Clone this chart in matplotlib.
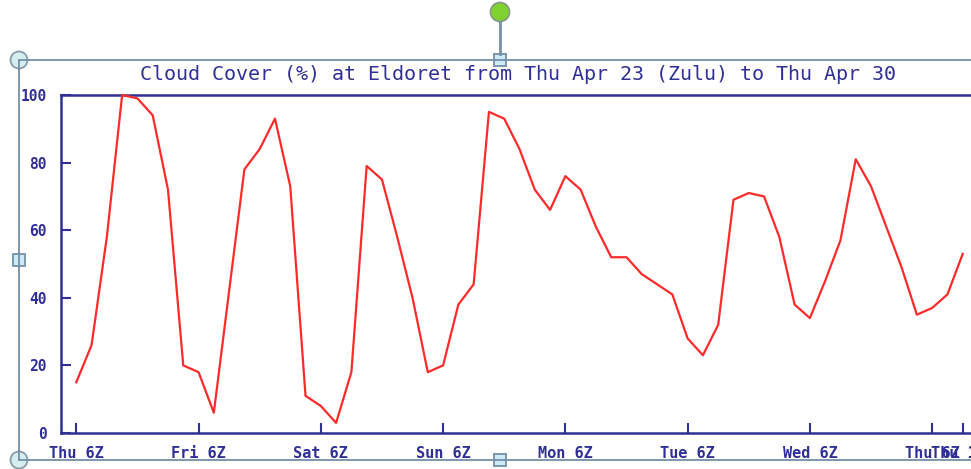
import numpy as np
import matplotlib.pyplot as plt
from matplotlib.patches import Circle, Rectangle

# cloud cover every 3 hours, starting Thu 6Z
hours = np.arange(0, 175, 3)
cover = [15, 26, 58, 100, 99, 94, 72, 20, 18, 6,
         42, 78, 84, 93, 73, 11, 8, 3, 18, 79,
         75, 58, 40, 18, 20, 38, 44, 95, 93, 84,
         72, 66, 76, 72, 61, 52, 52, 47, 44, 41,
         28, 23, 32, 69, 71, 70, 58, 38, 34, 45,
         57, 81, 73, 61, 49, 35, 37, 41, 53]

tick_hours = [0, 24, 48, 72, 96, 120, 144, 168, 174]
tick_labels = ['Thu 6Z', 'Fri 6Z', 'Sat 6Z', 'Sun 6Z', 'Mon 6Z',
               'Tue 6Z', 'Wed 6Z', 'Thu 6Z', 'Thu 12Z']
y_ticks = [0, 20, 40, 60, 80, 100]

title = 'Cloud Cover (%) at Eldoret from Thu Apr 23 (Zulu) to Thu Apr 30'

W, H = 971, 469
navy = '#2f2f95'
frame = '#7390a8'

fig = plt.figure(figsize=(W / 100, H / 100), dpi=100)
fig.patch.set_facecolor('white')

# plot area in pixels: left 61, right ~978, top 95, bottom 433
ax = fig.add_axes([61 / W, (H - 433) / H, (978 - 61) / W, (433 - 95) / H])
ax.plot(hours, cover, color='#ff2a2a', lw=1.6, clip_on=False, zorder=3)
ax.set_xlim(-3, 177)
ax.set_ylim(0, 100)

for side in ['left', 'top', 'bottom']:
    ax.spines[side].set_color(navy)
    ax.spines[side].set_linewidth(1.8)
ax.spines['right'].set_visible(False)

mono = 'DejaVu Sans Mono'
ax.set_yticks(y_ticks)
ax.set_yticklabels([str(v) for v in y_ticks], family=mono, weight='bold',
                   fontsize=10.5, color=navy)
ax.set_xticks(tick_hours)
ax.set_xticklabels(tick_labels, family=mono, weight='bold',
                   fontsize=11, color=navy)
ax.tick_params(axis='both', direction='in', length=7, width=1.5, color=navy)
ax.tick_params(axis='y', pad=10)
ax.tick_params(axis='x', pad=9)

fig.text(518 / W, (H - 74) / H, title, family=mono, fontsize=14.4,
         color=navy, ha='center', va='center')

# selection frame and handles, drawn in pixel space
ov = fig.add_axes([0, 0, 1, 1], facecolor='none')
ov.set_xlim(0, W)
ov.set_ylim(H, 0)
ov.axis('off')

ov.plot([19, W], [60, 60], color=frame, lw=1.3)
ov.plot([19, W], [460, 460], color=frame, lw=1.3)
ov.plot([19, 19], [60, 460], color=frame, lw=1.3)
ov.plot([500, 500], [22, 54], color=frame, lw=2)

for cy in [60, 460]:
    ov.add_patch(Circle((19, cy), 8.5, facecolor='#d6eef0',
                        edgecolor='#8a9aa4', lw=1.3))
for cx, cy in [(500, 60), (19, 260), (500, 460)]:
    ov.add_patch(Rectangle((cx - 6, cy - 6), 12, 12, facecolor='#cdeaf6',
                           edgecolor=frame, lw=1.3))
ov.add_patch(Circle((500, 12), 9.5, facecolor='#7fd22e',
                    edgecolor='#8a9a8a', lw=1.3))

fig.savefig('out.png', dpi=100)
